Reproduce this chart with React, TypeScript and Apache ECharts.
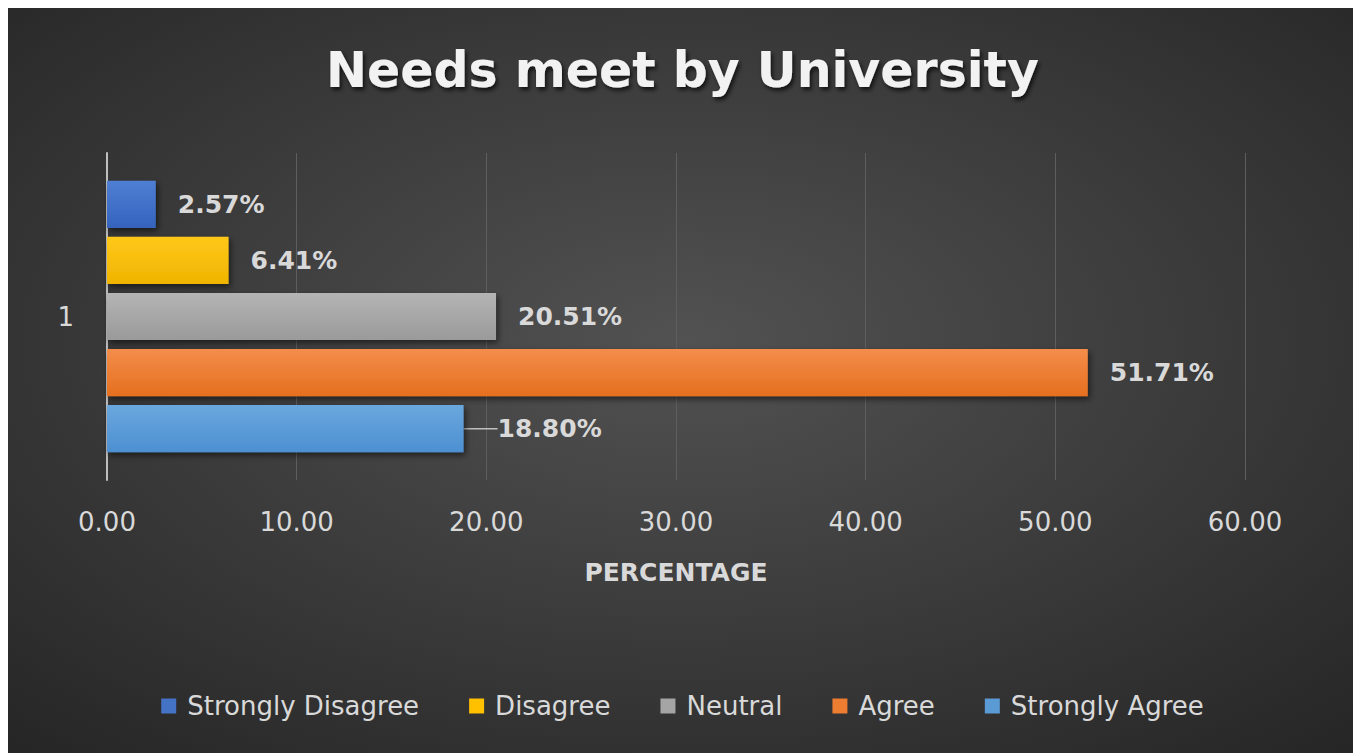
import React, { useEffect, useRef } from "react";
import * as echarts from "echarts";

const categories = ["1"];
const seriesNames = ["Strongly Disagree", "Disagree", "Neutral", "Agree", "Strongly Agree"];
const stronglyDisagree = [2.57];
const disagree = [6.41];
const neutral = [20.51];
const agree = [51.71];
const stronglyAgree = [18.8];
const seriesValues = [stronglyDisagree, disagree, neutral, agree, stronglyAgree];
const seriesColors = [
  ["#4f7fd4", "#3463bd"],
  ["#ffc819", "#efb400"],
  ["#b4b4b4", "#9a9a9a"],
  ["#f48d4b", "#e56f1f"],
  ["#6aa7de", "#4d90d2"],
];
const legendColors = ["#4472c4", "#ffc000", "#a5a5a5", "#ed7d31", "#5b9bd5"];
const xMin = 0;
const xMax = 60;
const xInterval = 10;

const FONT = "'DejaVu Sans', 'Open Sans', sans-serif";

export default function App() {
  const ref = useRef<HTMLDivElement>(null);
  useEffect(() => {
    if (!ref.current) return;
    const chart = echarts.init(ref.current, undefined, { renderer: "svg" });
    const series = seriesNames.map((name, i) => ({
      name,
      type: "bar",
      data: seriesValues[i],
      barGap: "19%",
      barCategoryGap: "17%",
      itemStyle: {
        color: {
          type: "linear",
          x: 0,
          y: 0,
          x2: 0,
          y2: 1,
          colorStops: [
            { offset: 0, color: seriesColors[i][0] },
            { offset: 1, color: seriesColors[i][1] },
          ],
        },
        shadowBlur: 6,
        shadowColor: "rgba(0,0,0,0.55)",
        shadowOffsetX: 2,
        shadowOffsetY: 3,
      },
      label: {
        show: true,
        position: "right",
        distance: i === 4 ? 10 : 22,
        padding: i === 4 ? [0, 0, 0, 12] : 0,
        formatter: (p: any) => p.value.toFixed(2) + "%",
        color: "#d9d9d9",
        fontFamily: FONT,
        fontWeight: "bold",
        fontSize: 25,
      },
      ...(i === 4
        ? {
            labelLayout: { dx: 12 },
            labelLine: { show: true, lineStyle: { color: "#bfbfbf", width: 1.5 } },
          }
        : {}),
    }));
    chart.setOption({
      animation: false,
      backgroundColor: {
        type: "radial",
        x: 0.5,
        y: 0.45,
        r: 0.75,
        colorStops: [
          { offset: 0, color: "#525252" },
          { offset: 1, color: "#252525" },
        ],
      },
      title: {
        text: "Needs meet by University",
        left: "center",
        top: 33,
        textStyle: {
          color: "#f2f2f2",
          fontFamily: FONT,
          fontWeight: "bold",
          fontSize: 49,
          textShadowColor: "rgba(0,0,0,0.7)",
          textShadowBlur: 4,
          textShadowOffsetX: 2,
          textShadowOffsetY: 3,
        },
      },
      legend: {
        bottom: 29,
        left: "center",
        itemWidth: 15,
        itemHeight: 15,
        itemGap: 50,
        icon: "rect",
        data: seriesNames.map((n, i) => ({ name: n, itemStyle: { color: legendColors[i] } })),
        textStyle: {
          color: "#d9d9d9",
          fontFamily: FONT,
          fontSize: 26,
          padding: [0, 0, 0, 6],
        },
      },
      grid: { left: 99, right: 112, top: 145, bottom: 273, containLabel: false },
      xAxis: {
        type: "value",
        min: xMin,
        max: xMax,
        interval: xInterval,
        name: "PERCENTAGE",
        nameLocation: "middle",
        nameGap: 80,
        nameTextStyle: {
          color: "#d9d9d9",
          fontFamily: FONT,
          fontWeight: "bold",
          fontSize: 25,
        },
        axisLine: { show: false },
        axisTick: { show: false },
        axisLabel: {
          color: "#d9d9d9",
          fontFamily: FONT,
          fontSize: 26,
          margin: 29,
          formatter: (v: number) => v.toFixed(2),
        },
        splitLine: { show: true, lineStyle: { color: "#5e5e5e", width: 1 } },
      },
      yAxis: {
        type: "category",
        data: categories,
        inverse: true,
        axisLine: { show: true, lineStyle: { color: "#bfbfbf", width: 2 } },
        axisTick: { show: false },
        axisLabel: {
          color: "#d9d9d9",
          fontFamily: FONT,
          fontSize: 26,
          margin: 33,
        },
      },
      series,
    });
    return () => chart.dispose();
  }, []);
  return <div ref={ref} style={{ width: 1349, height: 745 }} />;
}
